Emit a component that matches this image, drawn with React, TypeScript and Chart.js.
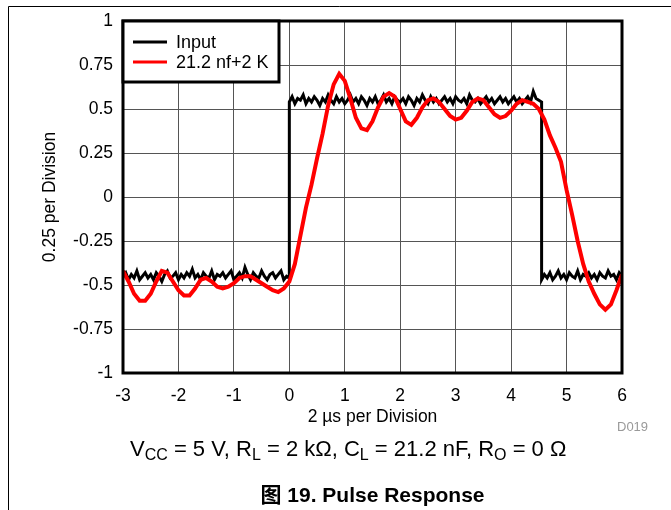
import React, { useEffect, useRef } from "react";
import { Chart, registerables } from "chart.js";

Chart.register(...registerables);

const FONT = "'Liberation Sans', Arial, Helvetica, sans-serif";

// Axes
const xMin = -3;
const xMax = 6;
const xStep = 1;
const yMin = -1;
const yMax = 1;
const yStep = 0.25;
const yTickLabels = ["-1", "-0.75", "-0.5", "-0.25", "0", "0.25", "0.5", "0.75", "1"];

// Red trace: 21.2 nF + 2 K, one value every 0.1 division, t = -3.0 .. 6.0
const redStep = 0.1;
const redStart = -3;
const redValues = [
  -0.42, -0.48, -0.55, -0.59, -0.59, -0.55, -0.48, -0.42, -0.43, -0.48,
  -0.53, -0.56, -0.56, -0.52, -0.47, -0.46, -0.48, -0.51, -0.52, -0.51,
  -0.49, -0.46, -0.45, -0.45, -0.47, -0.49, -0.51, -0.53, -0.54, -0.52,
  -0.48, -0.38, -0.22, -0.06, 0.07, 0.22, 0.36, 0.52, 0.64, 0.70,
  0.66, 0.56, 0.45, 0.39, 0.38, 0.43, 0.51, 0.57, 0.59, 0.57,
  0.50, 0.43, 0.41, 0.45, 0.51, 0.55, 0.56, 0.54, 0.50, 0.46,
  0.44, 0.45, 0.49, 0.54, 0.56, 0.55, 0.51, 0.47, 0.45, 0.46,
  0.49, 0.53, 0.55, 0.54, 0.53, 0.50, 0.44, 0.35, 0.28, 0.20,
  0.04, -0.10, -0.25, -0.38, -0.48, -0.55, -0.61, -0.64, -0.61, -0.53,
  -0.44,
];

// Input trace (black), one value every 0.05 division
const inputStep = 0.05;
const inputLowAStart = -3; // t = -3.00 .. 0.00
const inputLowA = [
  -0.45, -0.43, -0.47, -0.44, -0.46, -0.42, -0.47, -0.45, -0.43, -0.46,
  -0.44, -0.47, -0.43, -0.45, -0.48, -0.44, -0.42, -0.46, -0.45, -0.43,
  -0.47, -0.44, -0.46, -0.43, -0.45, -0.41, -0.46, -0.44, -0.47, -0.43,
  -0.45, -0.46, -0.42, -0.47, -0.44, -0.45, -0.43, -0.46, -0.44, -0.42,
  -0.47, -0.45, -0.43, -0.46, -0.40, -0.44, -0.47, -0.43, -0.45, -0.46,
  -0.42, -0.45, -0.47, -0.44, -0.43, -0.46, -0.44, -0.42, -0.47, -0.45,
  -0.46,
];
const inputHighStart = 0; // t = 0.00 .. 4.55
const inputHigh = [
  0.54, 0.57, 0.53, 0.56, 0.55, 0.58, 0.53, 0.56, 0.54, 0.57,
  0.55, 0.52, 0.56, 0.54, 0.58, 0.55, 0.53, 0.57, 0.54, 0.56,
  0.53, 0.55, 0.58, 0.54, 0.56, 0.53, 0.57, 0.55, 0.52, 0.56,
  0.54, 0.57, 0.53, 0.55, 0.58, 0.54, 0.56, 0.53, 0.57, 0.55,
  0.54, 0.56, 0.53, 0.57, 0.55, 0.52, 0.56, 0.54, 0.58, 0.55,
  0.53, 0.57, 0.54, 0.56, 0.53, 0.55, 0.57, 0.54, 0.56, 0.53,
  0.57, 0.55, 0.54, 0.56, 0.53, 0.58, 0.55, 0.54, 0.56, 0.53,
  0.55, 0.57, 0.54, 0.56, 0.53, 0.55, 0.57, 0.54, 0.56, 0.53,
  0.55, 0.57, 0.54, 0.56, 0.53, 0.55, 0.57, 0.54, 0.60, 0.56,
  0.55, 0.54,
];
const inputLowBStart = 4.55; // t = 4.55 .. 6.00
const inputLowB = [
  -0.47, -0.44, -0.46, -0.43, -0.47, -0.45, -0.42, -0.46, -0.44, -0.47,
  -0.43, -0.45, -0.46, -0.42, -0.47, -0.44, -0.45, -0.43, -0.46, -0.44,
  -0.47, -0.43, -0.45, -0.46, -0.42, -0.45, -0.44, -0.47, -0.43, -0.45,
];

// Text
const legendLabels = ["Input", "21.2 nf+2 K"];
const seriesColors = ["#000000", "#ff0000"];
const xTitle = "2 \u00b5s per Division";
const yTitle = "0.25 per Division";
const docId = "D019";
const captionParts: { t: string; sub?: boolean }[] = [
  { t: "V" }, { t: "CC", sub: true }, { t: " = 5 V, R" }, { t: "L", sub: true },
  { t: " = 2 k\u03a9, C" }, { t: "L", sub: true }, { t: " = 21.2 nF, R" },
  { t: "O", sub: true }, { t: " = 0 \u03a9" },
];
const figureTitle = "\u56fe 19. Pulse Response";

const r1 = (v: number) => Math.round(v * 1000) / 1000;
const seq = (start: number, step: number, vals: number[]) =>
  vals.map((y, i) => ({ x: r1(start + i * step), y }));

const redPoints = seq(redStart, redStep, redValues);
const inputPoints = [
  ...seq(inputLowAStart, inputStep, inputLowA),
  ...seq(inputHighStart, inputStep, inputHigh),
  ...seq(inputLowBStart, inputStep, inputLowB),
];

const overlayPlugin = {
  id: "overlay",
  afterDraw(chart: any) {
    const { ctx, chartArea: a } = chart;
    ctx.save();
    // page frame
    ctx.strokeStyle = "#000";
    ctx.lineWidth = 1;
    ctx.beginPath();
    ctx.moveTo(8.5, 510);
    ctx.lineTo(8.5, 6.5);
    ctx.lineTo(671, 6.5);
    ctx.stroke();

    // plot border
    ctx.lineWidth = 3;
    ctx.strokeRect(a.left, a.top, a.right - a.left, a.bottom - a.top);

    // legend
    const lx = a.left;
    const ly = a.top;
    const lw = 156;
    const lh = 61;
    ctx.fillStyle = "#fff";
    ctx.fillRect(lx, ly, lw, lh);
    ctx.strokeRect(lx, ly, lw, lh);
    ctx.font = `18px ${FONT}`;
    ctx.textBaseline = "middle";
    ctx.textAlign = "left";
    legendLabels.forEach((lab, i) => {
      const yy = ly + 21 + i * 20;
      ctx.strokeStyle = seriesColors[i];
      ctx.lineWidth = 3;
      ctx.beginPath();
      ctx.moveTo(lx + 10, yy);
      ctx.lineTo(lx + 44, yy);
      ctx.stroke();
      ctx.fillStyle = "#000";
      ctx.fillText(lab, lx + 53, yy + 1);
    });

    // axis titles
    const cx = (a.left + a.right) / 2;
    const cy = (a.top + a.bottom) / 2;
    ctx.fillStyle = "#000";
    ctx.font = `17.5px ${FONT}`;
    ctx.textAlign = "center";
    ctx.textBaseline = "alphabetic";
    ctx.fillText(xTitle, cx, 422);
    ctx.save();
    ctx.translate(55, cy);
    ctx.rotate(-Math.PI / 2);
    ctx.fillText(yTitle, 0, 0);
    ctx.restore();

    // doc id
    ctx.fillStyle = "#999";
    ctx.font = `13px ${FONT}`;
    ctx.textAlign = "left";
    ctx.fillText(docId, 617, 431);

    // caption with subscripts
    const mainSize = 22;
    const subSize = 16;
    let x = 130;
    const base = 456;
    ctx.fillStyle = "#000";
    captionParts.forEach((p) => {
      ctx.font = `${p.sub ? subSize : mainSize}px ${FONT}`;
      ctx.fillText(p.t, x, p.sub ? base + 4 : base);
      x += ctx.measureText(p.t).width;
    });

    // figure title
    ctx.font = `bold 21px ${FONT}, 'Noto Sans CJK SC'`;
    ctx.textAlign = "center";
    ctx.fillText(figureTitle, cx, 502);
    ctx.restore();
  },
};

export default function App() {
  const ref = useRef<HTMLCanvasElement | null>(null);

  useEffect(() => {
    if (!ref.current) return;
    const chart = new Chart(ref.current, {
      type: "line",
      data: {
        datasets: [
          {
            label: legendLabels[0],
            data: inputPoints,
            borderColor: seriesColors[0],
            borderWidth: 3,
            pointRadius: 0,
            tension: 0,
            order: 2,
          },
          {
            label: legendLabels[1],
            data: redPoints,
            borderColor: seriesColors[1],
            borderWidth: 4,
            pointRadius: 0,
            tension: 0,
            order: 1,
          },
        ],
      },
      options: {
        animation: false,
        responsive: false,
        parsing: false as any,
        layout: { padding: { top: 21, right: 49, left: 0, bottom: 0 } },
        plugins: {
          legend: { display: false },
          tooltip: { enabled: false },
          title: { display: false },
        },
        scales: {
          x: {
            type: "linear",
            min: xMin,
            max: xMax,
            afterFit: (s: any) => {
              s.height = 137;
            },
            ticks: {
              stepSize: xStep,
              color: "#000",
              font: { family: FONT, size: 17.5 },
              padding: 13,
              maxRotation: 0,
            },
            grid: { color: "#555", lineWidth: 1, drawTicks: false },
            border: { display: false },
          },
          y: {
            type: "linear",
            min: yMin,
            max: yMax,
            afterFit: (s: any) => {
              s.width = 123;
            },
            ticks: {
              stepSize: yStep,
              color: "#000",
              font: { family: FONT, size: 17.5 },
              padding: 10,
              callback: (v: any) =>
                yTickLabels[Math.round((Number(v) - yMin) / yStep)] ?? String(v),
            },
            grid: { color: "#555", lineWidth: 1, drawTicks: false },
            border: { display: false },
          },
        },
      },
      plugins: [overlayPlugin],
    });
    return () => chart.destroy();
  }, []);

  return (
    <div style={{ width: 671, height: 510 }}>
      <style>{`body{margin:0;}`}</style>
      <canvas ref={ref} width={671} height={510} style={{ display: "block" }} />
    </div>
  );
}
